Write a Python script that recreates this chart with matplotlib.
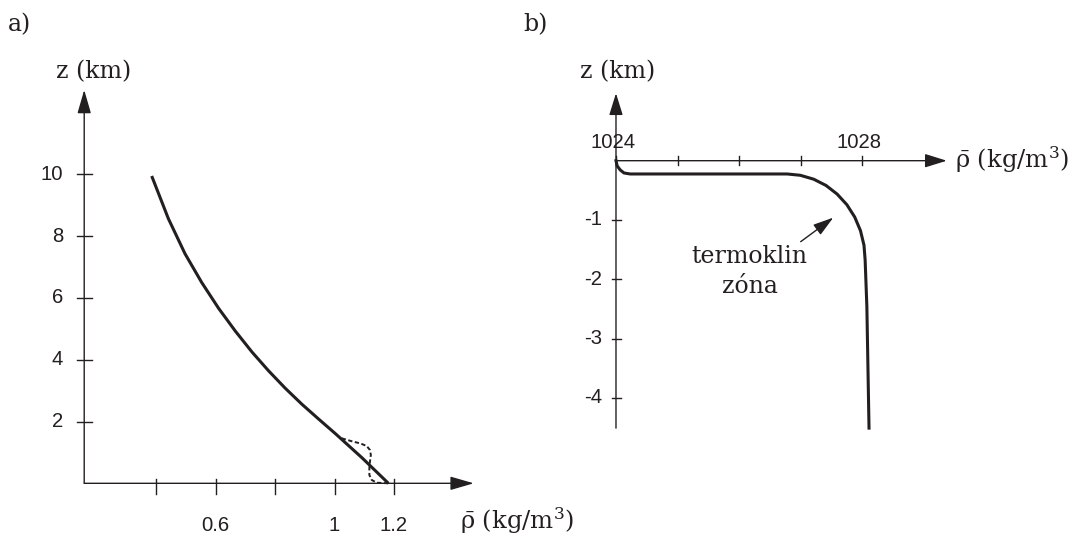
import matplotlib
matplotlib.use("Agg")
import matplotlib.pyplot as plt

plt.rcParams['mathtext.fontset'] = 'dejavuserif'

# a) air density with height
air_z = [9.945, 8.566, 7.430, 6.502, 5.663, 4.929, 4.252, 3.641, 3.078, 2.560,
         2.074, 1.605, 0.828, 0.0]
air_rho = [0.385, 0.441, 0.497, 0.553, 0.610, 0.666, 0.722, 0.778, 0.834, 0.890,
           0.947, 1.003, 1.092, 1.181]

# dashed boundary-layer detail near the ground
bl_z = [1.456, 1.346, 1.294, 1.207, 1.078, 0.916, 0.699, 0.485, 0.269, 0.107, 0.019, 0.0]
bl_rho = [1.024, 1.063, 1.086, 1.108, 1.119, 1.122, 1.119, 1.117, 1.117, 1.125, 1.142, 1.181]

air_xticks = [0.4, 0.6, 0.8, 1.0, 1.2]
air_xlabels = ['', '0.6', '', '1', '1.2']
air_yticks = [2, 4, 6, 8, 10]

# b) ocean density with depth
ocean_rho = [1024.00, 1024.02, 1024.07, 1024.13, 1024.23, 1026.78, 1026.994, 1027.211,
             1027.412, 1027.592, 1027.750, 1027.877, 1027.971, 1028.028, 1028.047,
             1028.075, 1028.11]
ocean_z = [0, -0.09, -0.157, -0.207, -0.224, -0.224, -0.246, -0.312, -0.418, -0.563,
           -0.742, -0.949, -1.179, -1.424, -1.675, -2.46, -4.51]

ocean_xticks = [1024, 1025, 1026, 1027, 1028]
ocean_xlabels = ['1024', '', '', '', '1028']
ocean_yticks = [-1, -2, -3, -4]

INK = '#231f20'
SERIF = 'DejaVu Serif'
SANS = 'Liberation Sans'
RHO_LABEL = r'$\bar{\mathrm{\rho}}$ (kg/m$^3$)'


def axis_arrow(ax, start, tip, hl=1.45, hw=0.42):
    ax.annotate('', xy=tip, xytext=start,
                arrowprops=dict(arrowstyle=f'-|>,head_length={hl},head_width={hw}',
                                mutation_scale=10, lw=1.0, color=INK,
                                shrinkA=0, shrinkB=0), annotation_clip=False)


fig = plt.figure(figsize=(10.72, 5.38), dpi=100)
W, H = 1072, 538

# ---- panel a ----
axa = fig.add_axes([0, 0, 640 / W, 1])
axa.set_xlim(-0.1252, 2.0272)
axa.set_ylim(-1.770, 15.641)
axa.axis('off')
axa.patch.set_visible(False)

x0a = 0.158
axis_arrow(axa, (x0a, 0), (1.468, 0))
axis_arrow(axa, (x0a, 0), (x0a, 12.73))
for t in air_xticks:
    axa.plot([t, t], [0.15, -0.33], color=INK, lw=1.0)
for t, lab in zip(air_xticks, air_xlabels):
    axa.text(t, -1.35, lab, ha='center', va='center', fontsize=14.6, family=SANS, color=INK)
for t in air_yticks:
    axa.plot([x0a - 0.023, x0a + 0.026], [t, t], color=INK, lw=1.0)
    axa.text(0.0877, t, str(t), ha='right', va='center', fontsize=14.6, family=SANS, color=INK)

axa.plot(air_rho, air_z, color=INK, lw=2.2, solid_capstyle='butt', solid_joinstyle='round')
axa.plot(bl_rho, bl_z, color=INK, lw=1.4, linestyle=(0, (2.2, 1.3)))

axa.text(0.189, 13.32, 'z (km)', ha='center', va='center', fontsize=17, family=SERIF, color=INK)
axa.text(1.422, -1.22, RHO_LABEL, ha='left', va='center', fontsize=17.5, family=SERIF, color=INK)

# ---- panel b ----
axb = fig.add_axes([578 / W, 0, 494 / W, 1])
axb.set_xlim(1023.383, 1031.407)
axb.set_ylim(-6.363, 2.710)
axb.axis('off')
axb.patch.set_visible(False)

axis_arrow(axb, (1024, 0), (1029.373, 0), hl=1.35)
axis_arrow(axb, (1024, -4.51), (1024, 1.137), hl=1.35)
for t in ocean_xticks:
    axb.plot([t, t], [0.075, -0.075], color=INK, lw=1.0)
for t, lab in zip(ocean_xticks, ocean_xlabels):
    axb.text(t - 0.05, 0.30, lab, ha='center', va='center', fontsize=14.6, family=SANS, color=INK)
for t in ocean_yticks:
    axb.plot([1024 - 0.07, 1024 + 0.08], [t, t], color=INK, lw=1.0)
    axb.text(1023.773, t, str(t), ha='right', va='center', fontsize=14.6, family=SANS, color=INK)

axb.plot(ocean_rho, ocean_z, color=INK, lw=2.2, solid_joinstyle='round')

axb.text(1024.02, 1.496, 'z (km)', ha='center', va='center', fontsize=17, family=SERIF, color=INK)
axb.text(1029.508, 0.01, RHO_LABEL, ha='left', va='center', fontsize=17.5, family=SERIF, color=INK)

axb.annotate('', xy=(1027.53, -0.96), xytext=(1027.0, -1.366),
             arrowprops=dict(arrowstyle='-|>,head_length=1.25,head_width=0.38',
                             mutation_scale=10, lw=1.0, color=INK,
                             shrinkA=0, shrinkB=0))
axb.text(1026.166, -1.61, 'termoklin', ha='center', va='center', fontsize=17, family=SERIF, color=INK)
axb.text(1026.18, -2.12, 'zóna', ha='center', va='center', fontsize=17, family=SERIF, color=INK)

fig.text(8 / W, 1 - 25 / H, 'a)', ha='left', va='center', fontsize=17, family=SERIF, color=INK)
fig.text(523 / W, 1 - 25 / H, 'b)', ha='left', va='center', fontsize=17, family=SERIF, color=INK)

fig.savefig('out.png', dpi=100)
